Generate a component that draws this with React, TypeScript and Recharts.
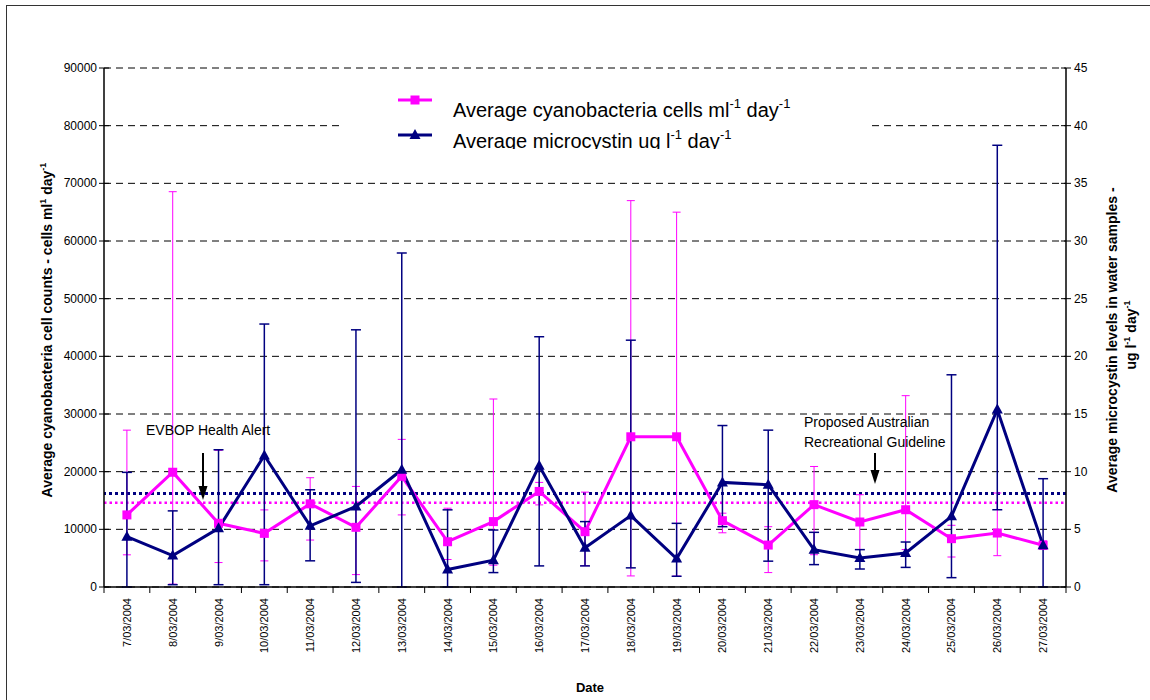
import React from "react"
import {
  ComposedChart,
  Line,
  XAxis,
  YAxis,
  CartesianGrid,
  ReferenceLine,
  ErrorBar,
} from "recharts"

// sampling days
const dates = [
  "7/03/2004", "8/03/2004", "9/03/2004", "10/03/2004", "11/03/2004", "12/03/2004", "13/03/2004",
  "14/03/2004", "15/03/2004", "16/03/2004", "17/03/2004", "18/03/2004", "19/03/2004", "20/03/2004",
  "21/03/2004", "22/03/2004", "23/03/2004", "24/03/2004", "25/03/2004", "26/03/2004", "27/03/2004",
]

// cyanobacteria cells ml-1 (mean, upper and lower bar ends)
const cellsMean = [12500, 19900, 11050, 9300, 14420, 10350, 19200, 7850, 11340, 16570, 9590, 26050, 26050, 11500, 7270, 14280, 11270, 13400, 8380, 9360, 7230]
const cellsHigh = [27200, 68550, 23700, 13370, 18950, 17440, 25600, 13660, 32600, 18140, 16450, 67000, 65000, 12800, 10460, 20900, 16000, 33180, 10700, 16300, 8000]
const cellsLow = [5580, 500, 4240, 4530, 8140, 2150, 12500, 4770, 3780, 14240, 3700, 1920, 1900, 9400, 2500, 5600, 6500, 6500, 5200, 5430, 6500]

// microcystin ug l-1 (mean, upper and lower bar ends)
const toxinMean = [4.36, 2.73, 5.09, 11.4, 5.3, 6.98, 10.17, 1.51, 2.33, 10.52, 3.4, 6.19, 2.47, 9.07, 8.87, 3.24, 2.51, 2.95, 6.13, 15.38, 3.61]
const toxinHigh = [9.94, 6.6, 11.9, 22.8, 8.43, 22.3, 28.96, 6.69, 4.94, 21.7, 5.67, 21.4, 5.52, 14.0, 13.6, 4.74, 3.24, 3.9, 18.4, 38.3, 9.39]
const toxinLow = [0, 0.2, 0.2, 0.2, 2.27, 0.4, 0, 0, 1.25, 1.83, 1.83, 1.66, 0.93, 5.23, 2.24, 1.94, 1.56, 1.7, 0.81, 6.7, 0]

// threshold lines
const cellsAlertLevel = 14600
const toxinGuideline = 8.1

const leftTicks = [0, 10000, 20000, 30000, 40000, 50000, 60000, 70000, 80000, 90000]
const rightTicks = [0, 5, 10, 15, 20, 25, 30, 35, 40, 45]

const PINK = "#ff00ff"
const NAVY = "#000080"
const FONT = "'Liberation Sans', Arial, sans-serif"

const W = 1150
const H = 700
const LEFT_W = 104
const RIGHT_W = 84
const BAND = (W - LEFT_W - RIGHT_W) / dates.length

const data = dates.map((date, i) => ({
  date,
  cells: cellsMean[i],
  cellsErr: [cellsMean[i] - cellsLow[i], cellsHigh[i] - cellsMean[i]],
  toxin: toxinMean[i],
  toxinErr: [toxinMean[i] - toxinLow[i], toxinHigh[i] - toxinMean[i]],
}))

const XTick = (props: any) => {
  const { x, y, payload, index } = props
  const last = index === dates.length - 1
  return (
    <g>
      <line x1={x - BAND / 2} x2={x - BAND / 2} y1={y} y2={y + 6} stroke="#000" strokeWidth={1} />
      {last && <line x1={x + BAND / 2} x2={x + BAND / 2} y1={y} y2={y + 6} stroke="#000" strokeWidth={1} />}
      <text
        x={x + 4}
        y={y + 11}
        transform={`rotate(-90, ${x + 4}, ${y + 11})`}
        textAnchor="end"
        fontSize={11}
        fontFamily={FONT}
        fill="#000"
      >
        {payload.value}
      </text>
    </g>
  )
}

const LeftTick = (props: any) => {
  const { x, y, payload } = props
  return (
    <g>
      <line x1={x + 2} x2={x + 12} y1={y} y2={y} stroke="#000" strokeWidth={1} />
      <text x={x} y={y + 4} textAnchor="end" fontSize={12} fontFamily={FONT} fill="#000">
        {payload.value}
      </text>
    </g>
  )
}

const RightTick = (props: any) => {
  const { x, y, payload } = props
  return (
    <g>
      <line x1={x - 3} x2={x - 13} y1={y} y2={y} stroke="#000" strokeWidth={1} />
      <text x={x} y={y + 4} textAnchor="start" fontSize={12} fontFamily={FONT} fill="#000">
        {payload.value}
      </text>
    </g>
  )
}

const SquareDot = (props: any) => {
  const { cx, cy, index } = props
  return <rect key={`sq-${index}`} x={cx - 4.5} y={cy - 4.5} width={9} height={9} fill={PINK} />
}

const TriangleDot = (props: any) => {
  const { cx, cy, index } = props
  return (
    <polygon
      key={`tri-${index}`}
      points={`${cx},${cy - 6} ${cx + 5.5},${cy + 4} ${cx - 5.5},${cy + 4}`}
      fill={NAVY}
    />
  )
}

// text with "-1" style superscripts: parts alternate normal / raised
const UnitText = ({ parts, size }: { parts: string[]; size: number }) => {
  const shift = size * 0.45
  return (
    <>
      {parts.map((p, i) => {
        const raised = i % 2 === 1
        const dy = i === 0 ? 0 : raised ? -shift : shift
        return (
          <tspan key={i} dy={dy} fontSize={raised ? size * 0.65 : size}>
            {p}
          </tspan>
        )
      })}
    </>
  )
}

export default function App() {
  return (
    <div style={{ position: "relative", width: W, height: H, overflow: "hidden", background: "#fff" }}>
      <style>{"body{margin:0}"}</style>
      <div
        style={{
          position: "absolute",
          left: 6,
          top: 5,
          width: W + 20,
          height: H + 20,
          border: "1.5px solid #333",
          boxSizing: "border-box",
        }}
      />
      <div style={{ position: "absolute", left: 0, top: 0 }}>
        <ComposedChart width={W} height={H} data={data} margin={{ top: 68, right: 0, bottom: 0, left: 0 }}>
          <CartesianGrid yAxisId="left" vertical={false} stroke="#000" strokeDasharray="7 5" strokeWidth={1} />
          <XAxis
            dataKey="date"
            scale="band"
            interval={0}
            height={113}
            tickSize={0}
            tickMargin={0}
            tickLine={false}
            tick={<XTick />}
            axisLine={{ stroke: "#000", strokeWidth: 1.5 }}
          />
          <YAxis
            yAxisId="left"
            width={LEFT_W}
            domain={[0, 90000]}
            ticks={leftTicks}
            interval={0}
            tickSize={5}
            tickMargin={2}
            tickLine={false}
            tick={<LeftTick />}
            axisLine={{ stroke: "#000", strokeWidth: 1.5 }}
          />
          <YAxis
            yAxisId="right"
            orientation="right"
            width={RIGHT_W}
            domain={[0, 45]}
            ticks={rightTicks}
            interval={0}
            tickSize={5}
            tickMargin={3}
            tickLine={false}
            tick={<RightTick />}
            axisLine={{ stroke: "#000", strokeWidth: 1.5 }}
          />
          <ReferenceLine yAxisId="left" y={cellsAlertLevel} stroke={PINK} strokeWidth={2.5} strokeDasharray="2.5 3" />
          <ReferenceLine yAxisId="right" y={toxinGuideline} stroke={NAVY} strokeWidth={3} strokeDasharray="3 3" />
          <Line
            yAxisId="left"
            type="linear"
            dataKey="cells"
            stroke={PINK}
            strokeWidth={3}
            dot={SquareDot}
            activeDot={false}
            isAnimationActive={false}
          >
            <ErrorBar dataKey="cellsErr" direction="y" width={4} stroke={PINK} strokeWidth={1} />
          </Line>
          <Line
            yAxisId="right"
            type="linear"
            dataKey="toxin"
            stroke={NAVY}
            strokeWidth={3}
            dot={TriangleDot}
            activeDot={false}
            isAnimationActive={false}
          >
            <ErrorBar dataKey="toxinErr" direction="y" width={5} stroke={NAVY} strokeWidth={1.5} />
          </Line>
        </ComposedChart>
      </div>

      {/* legend box, clipped at the bottom */}
      <svg
        width={530}
        height={69}
        style={{ position: "absolute", left: 342, top: 80, background: "#fff" }}
        fontFamily={FONT}
      >
        <line x1={56} x2={90} y1={20} y2={20} stroke={PINK} strokeWidth={3} />
        <rect x={68.5} y={15.5} width={9} height={9} fill={PINK} />
        <text x={111} y={37} fontSize={20} fill="#000">
          <UnitText size={20} parts={["Average cyanobacteria cells ml", "-1", " day", "-1"]} />
        </text>
        <line x1={56} x2={90} y1={55} y2={55} stroke={NAVY} strokeWidth={3} />
        <polygon points="73,49 78.5,59 67.5,59" fill={NAVY} />
        <text x={111} y={68} fontSize={20} fill="#000">
          <UnitText size={20} parts={["Average microcystin ug l", "-1", " day", "-1"]} />
        </text>
      </svg>

      {/* axis titles and notes */}
      <svg width={W} height={H} style={{ position: "absolute", left: 0, top: 0, pointerEvents: "none" }} fontFamily={FONT}>
        <text
          x={52}
          y={330}
          transform="rotate(-90, 52, 330)"
          textAnchor="middle"
          fontSize={14}
          fontWeight="bold"
          fill="#000"
        >
          <UnitText size={14} parts={["Average cyanobacteria cell counts - cells ml", "1", " day", "-1"]} />
        </text>
        <text
          x={1117}
          y={340}
          transform="rotate(-90, 1117, 340)"
          textAnchor="middle"
          fontSize={14}
          fontWeight="bold"
          fill="#000"
        >
          Average microcystin levels in water samples -
        </text>
        <text
          x={1136}
          y={335}
          transform="rotate(-90, 1136, 335)"
          textAnchor="middle"
          fontSize={14}
          fontWeight="bold"
          fill="#000"
        >
          <UnitText size={14} parts={["ug l", "-1", " day", "-1"]} />
        </text>
        <text x={590} y={692} textAnchor="middle" fontSize={13} fontWeight="bold" fill="#000">
          Date
        </text>

        <text x={146} y={435} fontSize={14} fill="#000">EVBOP Health Alert</text>
        <line x1={203} x2={203} y1={453} y2={488} stroke="#000" strokeWidth={2} />
        <polygon points="198.5,486 207.5,486 203,500" fill="#000" />

        <text x={804} y={427} fontSize={14} fill="#000">Proposed Australian</text>
        <text x={804} y={447} fontSize={14} fill="#000">Recreational Guideline</text>
        <line x1={875} x2={875} y1={453} y2={472} stroke="#000" strokeWidth={2} />
        <polygon points="870.5,470 879.5,470 875,484" fill="#000" />
      </svg>
    </div>
  )
}
